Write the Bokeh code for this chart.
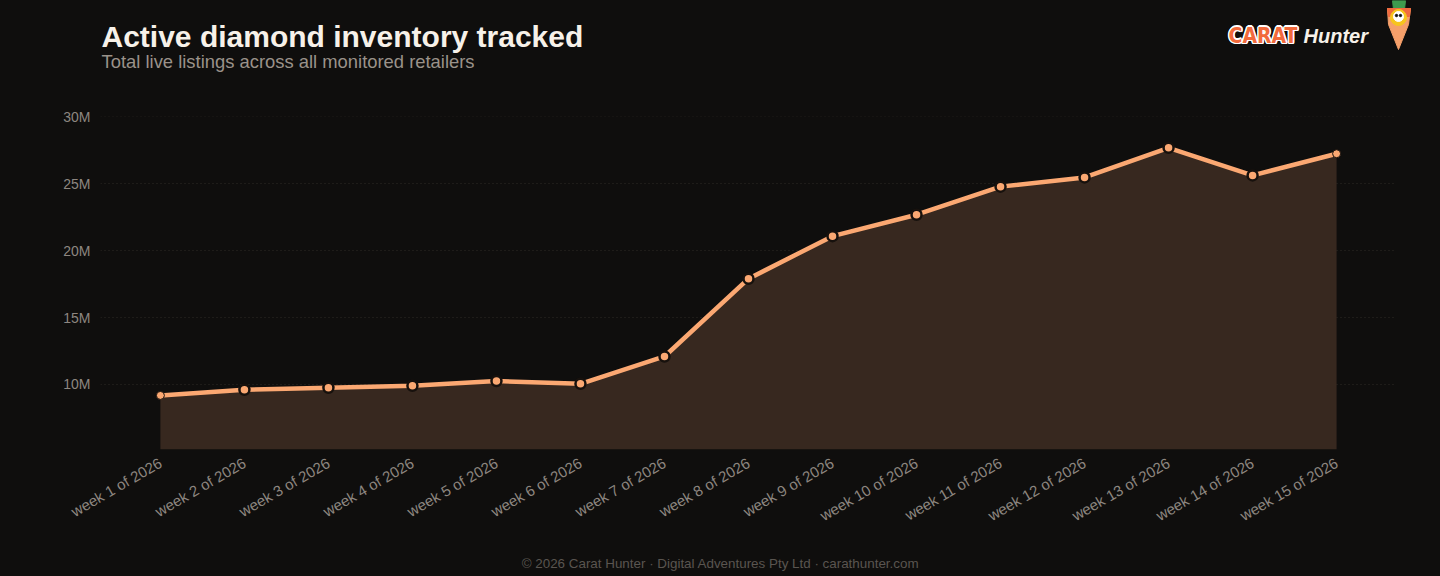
import math
from bokeh.plotting import figure
from bokeh.layouts import column
from bokeh.models import FactorRange, Range1d, FixedTicker, PrintfTickFormatter
from bokeh.core.properties import value
from bokeh.embed import file_html
from bokeh.resources import INLINE

# ---- data ----
weeks = ["week 1 of 2026", "week 2 of 2026", "week 3 of 2026", "week 4 of 2026",
         "week 5 of 2026", "week 6 of 2026", "week 7 of 2026", "week 8 of 2026",
         "week 9 of 2026", "week 10 of 2026", "week 11 of 2026", "week 12 of 2026",
         "week 13 of 2026", "week 14 of 2026", "week 15 of 2026"]
listings_m = [9.18, 9.60, 9.75, 9.90, 10.25, 10.05, 12.09, 17.90,
              21.08, 22.68, 24.78, 25.47, 27.68, 25.62, 27.24]
y_tick_values = [10, 15, 20, 25, 30]

title_text = "Active diamond inventory tracked"
subtitle_text = "Total live listings across all monitored retailers"
footer_text = "\u00a9 2026 Carat Hunter \u00b7 Digital Adventures Pty Ltd \u00b7 carathunter.com"

BG = "#0f0e0d"
LINE = "#fba872"
AREA = "#37281f"
FONT = "Liberation Sans"
W = 1440
H_HEAD = 100
H_FOOT = 31
H_MAIN = 576 - H_HEAD - H_FOOT

Y0, Y1 = 5.14, 30.02


def clean(f):
    f.outline_line_color = None
    f.background_fill_color = None
    f.border_fill_color = None
    f.frame_align = False


def panel(h):
    f = figure(width=W, height=h, x_range=Range1d(0, W), y_range=Range1d(h, 0),
               min_border=0, toolbar_location=None, output_backend="svg")
    f.axis.visible = False
    f.grid.visible = False
    clean(f)
    return f


def mid(baseline, size):
    # vertical middle of the em box for a text of given size with given baseline
    return baseline - 0.3465 * size


# ---- header (coordinates = pixels from top-left) ----
head = panel(H_HEAD)
head.text(x=[101], y=[mid(46, 30)], text=[title_text], text_font=value(FONT), text_font_style="bold",
          text_font_size="30px", text_color="#f7f1e9", text_baseline="middle")
head.text(x=[101], y=[mid(67.5, 18.4)], text=[subtitle_text], text_font=value(FONT),
          text_font_size="18.4px", text_color="#9a928a", text_baseline="middle")

carat_font = value("DejaVu Sans Condensed")
offs = [(-1.5, 0), (1.5, 0), (0, -1.5), (0, 1.5), (-1.1, -1.1), (1.1, -1.1), (-1.1, 1.1), (1.1, 1.1)]
cy = mid(42.5, 21)
head.text(x=[1297 + dx for dx, dy in offs], y=[cy + dy for dx, dy in offs], text=["CARAT"] * len(offs),
          text_font=carat_font, text_font_style="bold", text_align="right",
          text_font_size="21px", text_color="#ffffff", text_baseline="middle")
head.text(x=[1297], y=[cy], text=["CARAT"], text_font=carat_font, text_font_style="bold",
          text_align="right", text_font_size="21px", text_color="#f26a3c", text_baseline="middle")
head.text(x=[1303], y=[mid(42.7, 20)], text=["Hunter"], text_font=value(FONT), text_font_style="bold italic",
          text_font_size="20px", text_color="#f7f1e9", text_baseline="middle")

# carrot mascot
head.patch([1392, 1405, 1404, 1393], [0, 0, 9, 9], color="#3d9a4e")
head.patch([1387, 1410, 1408, 1398, 1388], [8, 8, 24, 49, 24], color="#f6a06a")
head.patch([1387, 1410, 1409, 1388], [8, 8, 16, 16], color="#f06a3e")
head.circle(x=[1398], y=[17], radius=8, color="#f7c51e")
head.circle(x=[1398], y=[16], radius=5, color="#ffffff")
head.circle(x=[1396, 1400], y=[15, 15], radius=1.2, color="#111111")

# ---- main chart ----
p = figure(width=W, height=H_MAIN,
           x_range=FactorRange(*weeks, range_padding=0.0284, range_padding_units="percent"),
           y_range=Range1d(Y0, Y1),
           min_border_left=100, min_border_right=44,
           min_border_top=116 - H_HEAD, min_border_bottom=(576 - H_FOOT) - 449,
           toolbar_location=None, output_backend="svg")
clean(p)

p.varea(x=weeks, y1=[Y0] * len(weeks), y2=listings_m, fill_color=AREA, fill_alpha=1.0)
p.line(weeks, listings_m, line_color=LINE, line_width=4.5, line_join="round")
p.scatter(weeks[1:-1], listings_m[1:-1], size=10, fill_color=LINE,
          line_color="#17110d", line_width=2.5)
p.scatter([weeks[0], weeks[-1]], [listings_m[0], listings_m[-1]], size=8,
          fill_color=LINE, line_color="#17110d", line_width=1)

p.xgrid.grid_line_color = None
p.ygrid.grid_line_color = "#2e2a27"
p.ygrid.grid_line_dash = "1 3"
p.ygrid.grid_line_width = 1
p.ygrid.ticker = FixedTicker(ticks=y_tick_values)

p.yaxis.ticker = FixedTicker(ticks=y_tick_values)
p.yaxis.formatter = PrintfTickFormatter(format="%dM")
for ax in (p.xaxis[0], p.yaxis[0]):
    ax.axis_line_color = None
    ax.major_tick_line_color = None
    ax.minor_tick_line_color = None
    ax.major_tick_out = 0
    ax.major_tick_in = 0
    ax.major_label_text_color = "#8d8680"
    ax.major_label_text_font = FONT
p.yaxis.major_label_text_font_size = "14px"
p.xaxis.major_label_text_font_size = "15px"
p.yaxis.major_label_standoff = 10
p.xaxis.major_label_standoff = 12
p.xaxis.major_label_orientation = math.pi / 6

# ---- footer ----
foot = panel(H_FOOT)
foot.text(x=[720], y=[mid(568, 13.4) - (576 - H_FOOT)], text=[footer_text], text_font=value(FONT),
          text_align="center", text_font_size="13.4px", text_color="#5a5550", text_baseline="middle")

layout = column(head, p, foot, spacing=0, styles={"background-color": BG})
open("out.html", "w").write(file_html(layout, INLINE))
